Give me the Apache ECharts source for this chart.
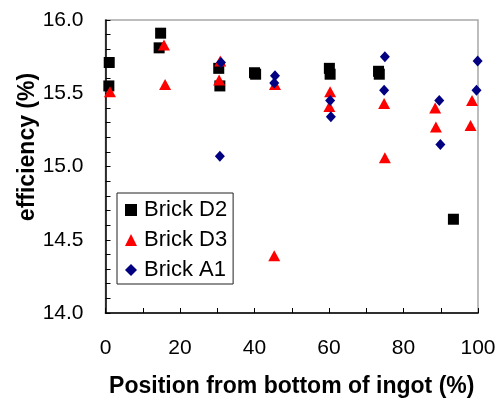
<!DOCTYPE html>
<html><head><meta charset="utf-8">
<script src="https://cdn.jsdelivr.net/npm/echarts@6/dist/echarts.min.js"></script>
<style>html,body{margin:0;padding:0;background:#fff}#c{width:498px;height:398px}</style>
</head><body><div id="c"></div>
<script>
var seriesNames = ['Brick D2', 'Brick D3', 'Brick A1'];
var brickD2 = [[1.0,15.71],[0.9,15.55],[14.8,15.91],[14.4,15.81],[30.4,15.67],[30.7,15.55],[40.0,15.64],[40.3,15.63],[60.1,15.67],[60.3,15.63],[73.3,15.65],[73.5,15.63],[93.4,14.64]];
var brickD3 = [[1.2,15.51],[15.7,15.83],[16.0,15.56],[30.8,15.72],[30.5,15.59],[45.5,15.56],[45.3,14.39],[60.3,15.51],[60.1,15.41],[74.8,15.43],[75.0,15.06],[88.5,15.40],[88.7,15.27],[98.4,15.45],[98.0,15.28]];
var brickA1 = [[31.0,15.71],[30.7,15.07],[45.5,15.62],[45.3,15.57],[60.3,15.45],[60.5,15.34],[75.0,15.75],[74.8,15.52],[89.6,15.45],[89.9,15.15],[99.9,15.72],[99.6,15.52]];
var xTitle = 'Position from bottom of ingot (%)';
var yTitle = 'efficiency (%)';

var chart = echarts.init(document.getElementById('c'), null, {renderer:'canvas'});
var font = 'Liberation Sans, Arial, sans-serif';
chart.setOption({
  animation: false,
  backgroundColor: '#fff',
  grid: {left:105.5, right:20, top:20, bottom:85, show:true, borderColor:'#a8a8a8', borderWidth:1.5, containLabel:false, outerBoundsMode:'none'},
  xAxis: {
    type:'value', min:0, max:100, interval:20,
    axisLine:{lineStyle:{color:'#000', width:1.5}},
    axisTick:{inside:true, length:5, lineStyle:{color:'#000', width:1}},
    minorTick:{show:true, splitNumber:2, length:5, lineStyle:{color:'#000', width:1}},
    splitLine:{show:false},
    axisLabel:{color:'#000', fontSize:21, fontFamily:font, margin:25},
    name: xTitle, nameLocation:'middle', nameGap:62,
    nameTextStyle:{color:'#000', fontSize:23, fontWeight:'bold', fontFamily:font}
  },
  yAxis: {
    type:'value', min:14, max:16, interval:0.5,
    axisLine:{show:true, lineStyle:{color:'#000', width:1.5}},
    axisTick:{show:true, inside:true, length:5, lineStyle:{color:'#000', width:1}},
    minorTick:{show:true, splitNumber:5, length:5, lineStyle:{color:'#000', width:1}},
    splitLine:{show:false},
    axisLabel:{color:'#000', fontSize:21, fontFamily:font, margin:22, formatter:function(v){return v.toFixed(1);}}
  },
  graphic: [{
    type:'text', x:28, y:147, rotation:Math.PI/2,
    style:{text:yTitle, fill:'#000', font:'bold 23px '+font, textAlign:'center', textVerticalAlign:'middle'}
  }],
  legend: {
    orient:'vertical', left:117, top:193,
    data: seriesNames,
    backgroundColor:'#fff', borderColor:'#222', borderWidth:1,
    padding:[6,6,3,8], itemGap:8, itemWidth:12, itemHeight:12,
    textStyle:{color:'#000', fontSize:22, fontFamily:font, padding:[0,0,0,2]}
  },
  series: [
    {name:seriesNames[0], type:'scatter', data:brickD2, symbol:'rect', symbolSize:11, itemStyle:{color:'#000', opacity:1}, z:2},
    {name:seriesNames[1], type:'scatter', data:brickD3, symbol:'triangle', symbolSize:[12,11], itemStyle:{color:'#ff0000', opacity:1}, z:3},
    {name:seriesNames[2], type:'scatter', data:brickA1, symbol:'diamond', symbolSize:[10,11], itemStyle:{color:'#000080', opacity:1}, z:4}
  ]
});
</script></body></html>
